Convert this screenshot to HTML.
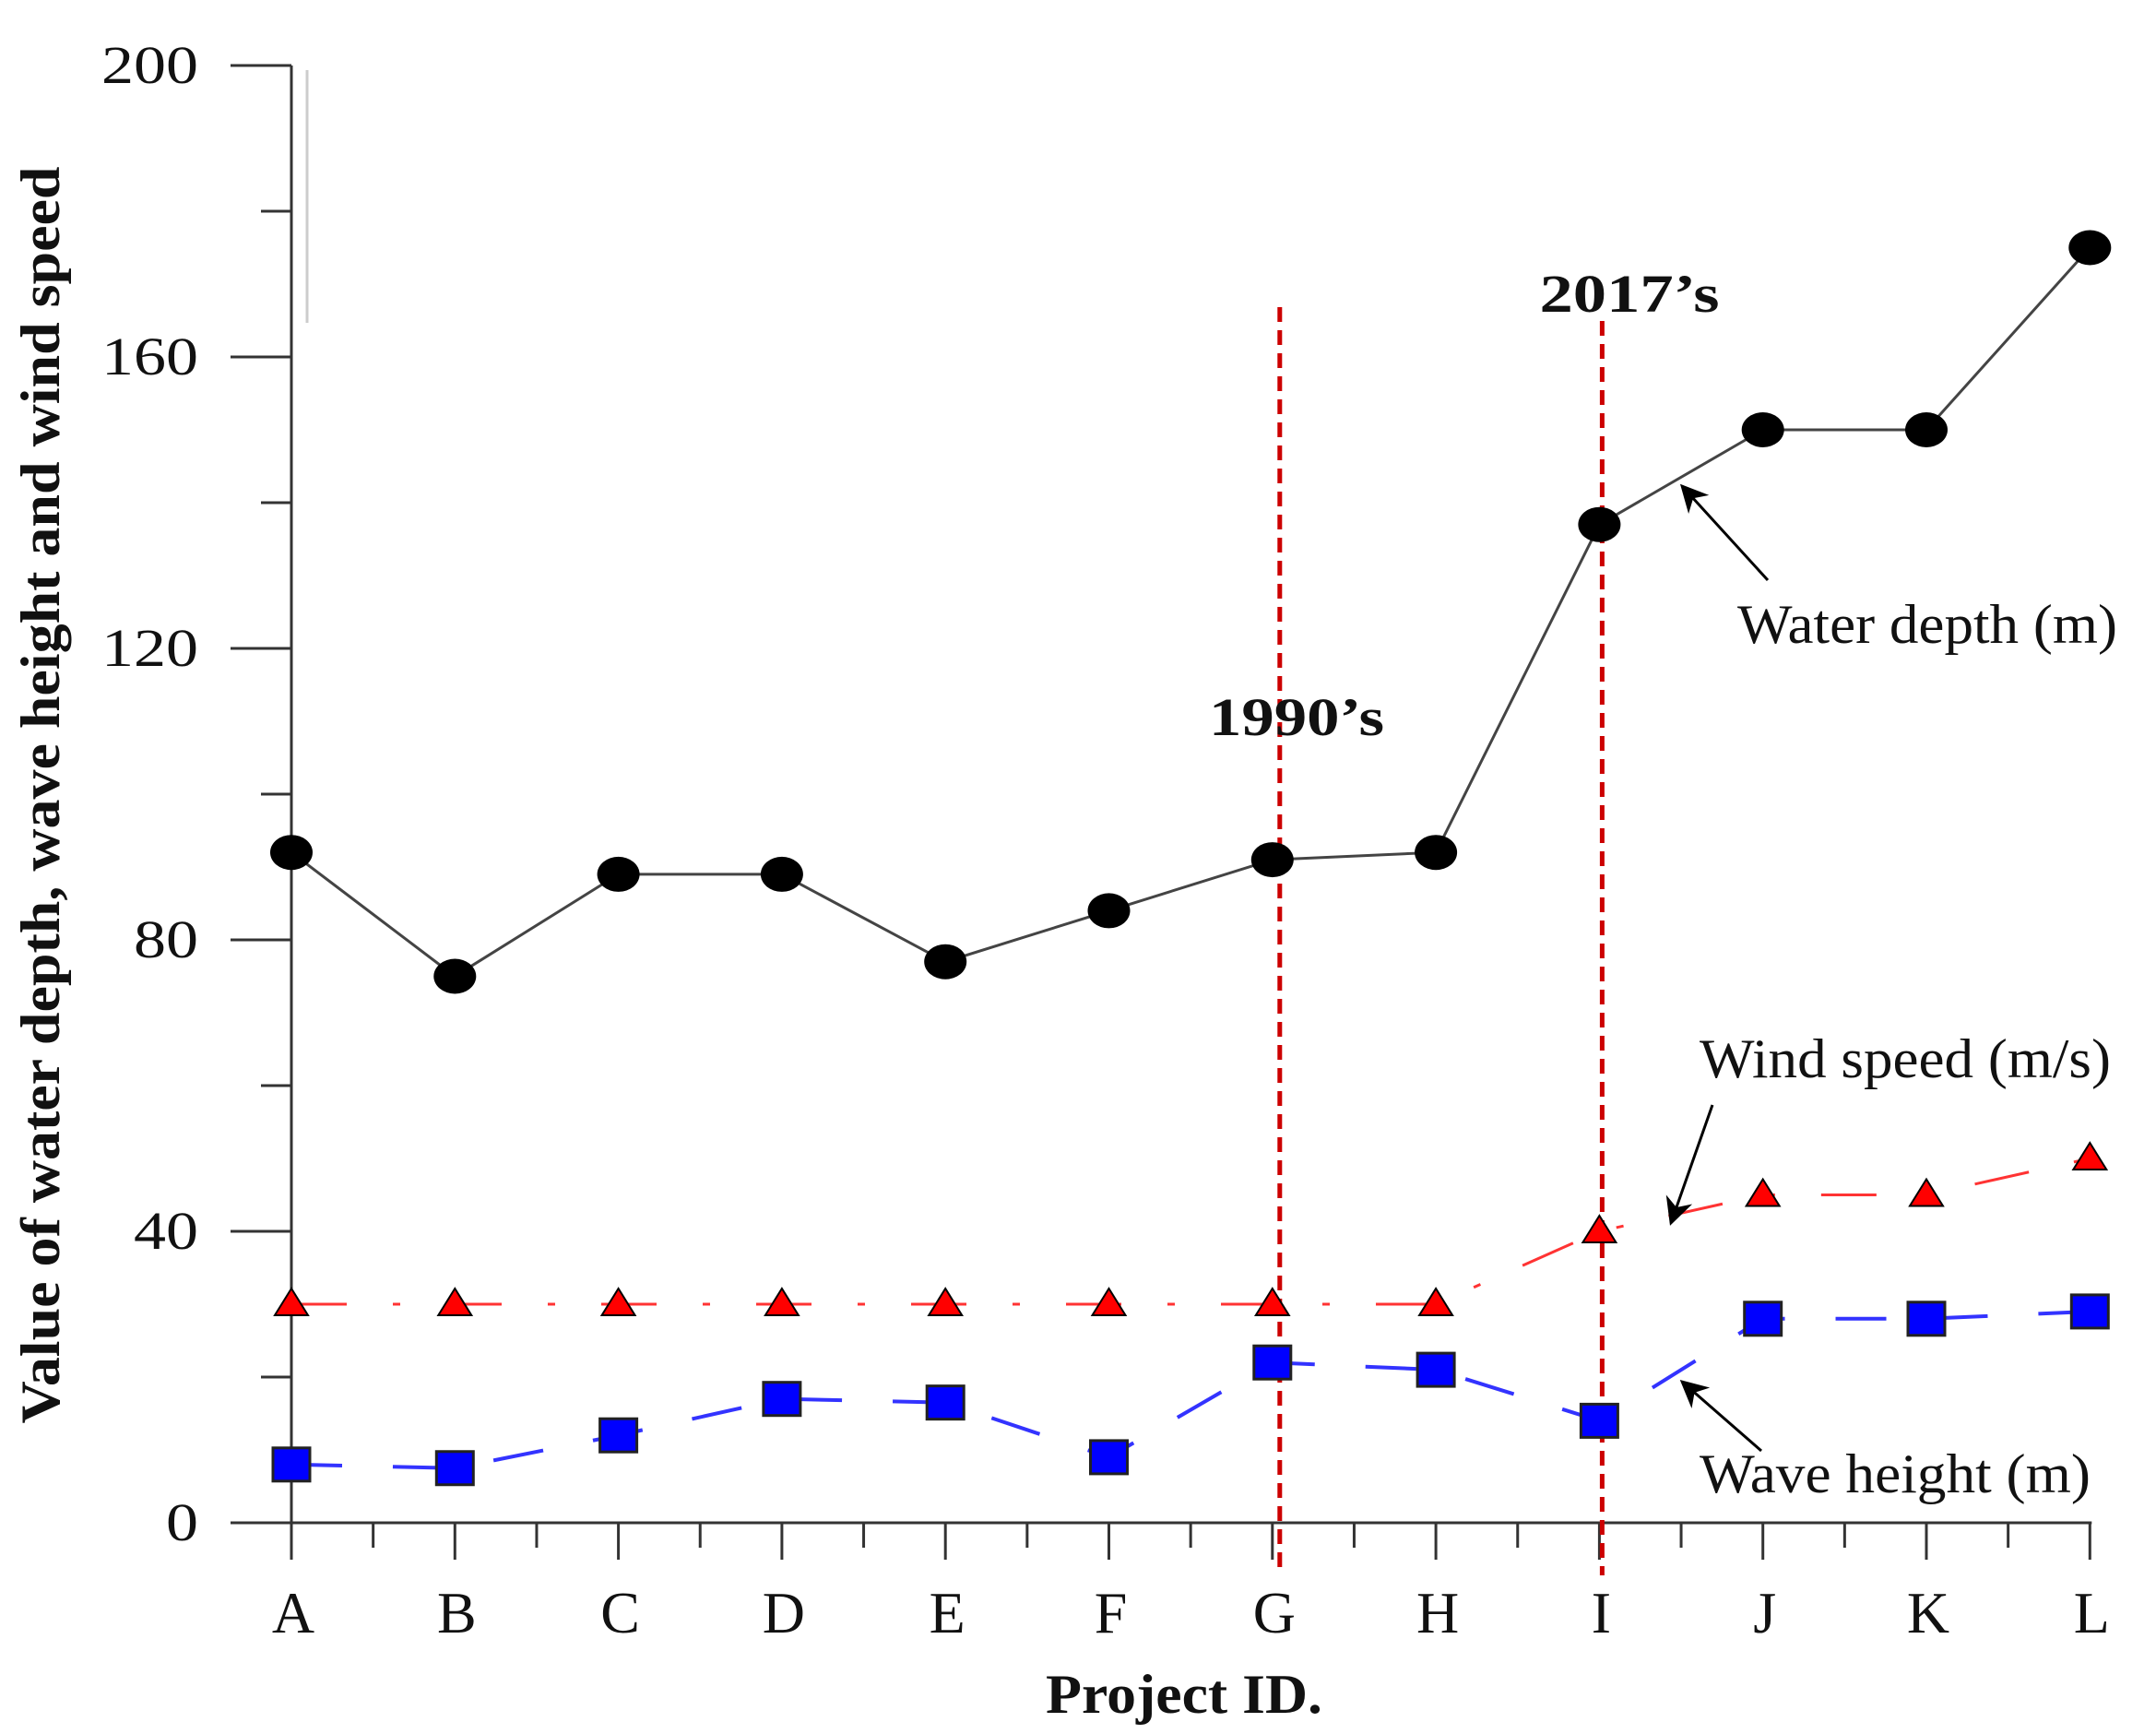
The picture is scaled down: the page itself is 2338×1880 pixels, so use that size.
<!DOCTYPE html>
<html><head><meta charset="utf-8"><style>
html,body{margin:0;padding:0;background:#fff}
svg{display:block}
text{font-family:"Liberation Serif",serif;fill:#111}
</style></head><body>
<svg id="chart" width="2338" height="1880" viewBox="0 0 2338 1880" xmlns="http://www.w3.org/2000/svg">
<line x1="333" y1="76" x2="333" y2="350" stroke="#ccc" stroke-width="3"/>
<g id="axes"></g>
<g id="series"></g>
<text transform="translate(64,862) rotate(-90)" text-anchor="middle" font-size="60" font-weight="bold" textLength="1363" lengthAdjust="spacingAndGlyphs">Value of water depth, wave height and wind speed</text>
<text x="1284" y="1857" text-anchor="middle" font-size="60" font-weight="bold" textLength="300" lengthAdjust="spacingAndGlyphs">Project ID.</text>
<text x="1406" y="797" text-anchor="middle" font-size="58" font-weight="bold" textLength="190" lengthAdjust="spacingAndGlyphs">1990’s</text>
<text x="1767" y="338" text-anchor="middle" font-size="58" font-weight="bold" textLength="195" lengthAdjust="spacingAndGlyphs">2017’s</text>
<text x="1884" y="697" font-size="60" textLength="412" lengthAdjust="spacingAndGlyphs">Water depth (m)</text>
<text x="1843" y="1168" font-size="60" textLength="446" lengthAdjust="spacingAndGlyphs">Wind speed (m/s)</text>
<text x="1843" y="1618" font-size="60" textLength="424" lengthAdjust="spacingAndGlyphs">Wave height (m)</text>
<defs><marker id="ah2" viewBox="0 0 10 10" refX="9" refY="5" markerWidth="34" markerHeight="30" orient="auto" markerUnits="userSpaceOnUse"><path d="M0,0 L10,5 L0,10 L3,5 z" fill="#000"/></marker></defs>
<line x1="1917" y1="629" x2="1824" y2="527" stroke="#000" stroke-width="3" marker-end="url(#ah2)"/>
<line x1="1857" y1="1198" x2="1812" y2="1326" stroke="#000" stroke-width="3" marker-end="url(#ah2)"/>
<line x1="1910" y1="1573" x2="1824" y2="1498" stroke="#000" stroke-width="3" marker-end="url(#ah2)"/>
</svg>
<script>
const categories=["A","B","C","D","E","F","G","H","I","J","K","L"];
const waterDepth=[92,75,89,89,77,84,91,92,137,150,150,175];
const windSpeed=[30,30,30,30,30,30,30,30,40,45,45,50];
const waveHeight=[8,7.5,12,17,16.5,9,22,21,14,28,28,29];
const yTicks=[0,40,80,120,160,200];
const eraIndex=[6,8];
const NS="http://www.w3.org/2000/svg";
const X0=316,DX=177.3,Y0=1651,YS=(1651-71)/200;
const xs=i=>X0+i*DX, ys=v=>Y0-v*YS;
function mk(tag,attrs,parent){const e=document.createElementNS(NS,tag);for(const k in attrs)e.setAttribute(k,attrs[k]);parent.appendChild(e);return e;}
const ax=document.getElementById('axes'), se=document.getElementById('series');
let e;
e=mk('line',{x1:xs(0),y1:ys(200),x2:xs(0),y2:Y0+38,stroke:'#333','stroke-width':3},ax);


e=mk('line',{x1:255,y1:Y0,x2:xs(11)+2,y2:Y0,stroke:'#333','stroke-width':3},ax);


for(let v=0;v<=200;v+=20){const major=v%40===0;
 e=mk('line',{x1:major?250:283,y1:ys(v),x2:xs(0),y2:ys(v),stroke:'#333','stroke-width':3},ax);
 
 }
yTicks.forEach(v=>{const s=String(v);e=mk('text',{x:215,y:ys(v)+19,'text-anchor':'end','font-size':58,textLength:s.length*35,lengthAdjust:'spacingAndGlyphs'},ax);e.textContent=s;
 
 });
categories.forEach((c,i)=>{
 e=mk('line',{x1:xs(i),y1:Y0,x2:xs(i),y2:Y0+40,stroke:'#333','stroke-width':3},ax);
 
 
 if(i<11){e=mk('line',{x1:xs(i)+DX/2,y1:Y0,x2:xs(i)+DX/2,y2:Y0+27,stroke:'#333','stroke-width':3},ax);
 
 }
 e=mk('text',{x:xs(i)+2,y:1770,'text-anchor':'middle','font-size':64},ax);e.textContent=c;
 
 
});
const eraOffset=[8,3];
eraIndex.forEach((i,k)=>{e=mk('line',{x1:xs(i)+eraOffset[k],y1:k?348:333,x2:xs(i)+eraOffset[k],y2:1708,stroke:'#c00','stroke-width':5,'stroke-dasharray':'16,9'},se);
 
 });
function line(data,color,dash,w,name){const pts=data.map((v,i)=>xs(i)+','+ys(v)).join(' ');
 e=mk('polyline',{points:pts,fill:'none',stroke:color,'stroke-width':w,'stroke-dasharray':dash},se);
 
 }
line(waterDepth,'#444','none',3,'water-depth-line');
line(windSpeed,'#f33','60,50,8,50',3,'wind-speed-line');
line(waveHeight,'#33f','55,55',4,'wave-height-line');
waterDepth.forEach((v,i)=>{e=mk('ellipse',{cx:xs(i),cy:ys(v),rx:23,ry:19,fill:'#000'},se);
 
 });
windSpeed.forEach((v,i)=>{const x=xs(i),y=ys(v);e=mk('polygon',{points:`${x-18},${y+12} ${x+18},${y+12} ${x},${y-17}`,fill:'#f00',stroke:'#000','stroke-width':2},se);
 
 });
waveHeight.forEach((v,i)=>{e=mk('rect',{x:xs(i)-20,y:ys(v)-18,width:40,height:36,fill:'#00f',stroke:'#222','stroke-width':3},se);
 
 });
</script>
</body></html>
